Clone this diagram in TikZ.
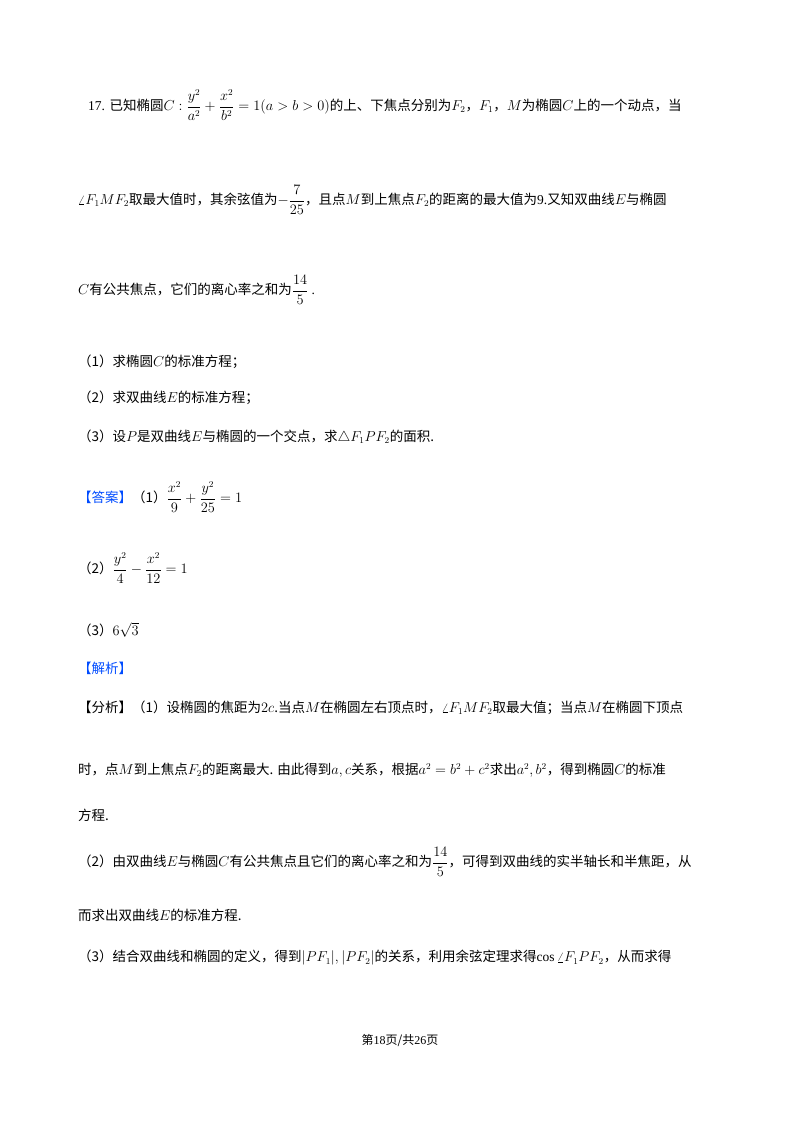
\documentclass[tikz,border=0pt]{standalone}
\usepackage{fontspec}
\usepackage{amsmath}
\newfontfamily\cjk{Noto Sans CJK SC}
\setmainfont{Liberation Serif}
\begin{document}
\begin{tikzpicture}[x=1pt,y=1pt,
  ln/.style={anchor=west,inner sep=0pt,font=\fontsize{13.5}{16}\selectfont},
  ans/.style={text=blue!70!cyan}]
\fill[white] (0,0) rectangle (800,-1132);
\useasboundingbox (0,0) rectangle (800,-1132);
\node[ln] (l1) at (88,-105) {17. {\cjk 已知椭圆}$C:\dfrac{y^2}{a^2}+\dfrac{x^2}{b^2}=1(a>b>0)${\cjk 的上、下焦点分别为}$F_2${\cjk ，}$F_1${\cjk ，}$M${\cjk 为椭圆}$C${\cjk 上的一个动点，当}};
\node[ln] (l2) at (78,-200) {$\angle F_1MF_2${\cjk 取最大值时，其余弦值为}$-\dfrac{7}{25}${\cjk ，且点}$M${\cjk 到上焦点}$F_2${\cjk 的距离的最大值为}9.{\cjk 又知双曲线}$E${\cjk 与椭圆}};
\node[ln] (l3) at (78,-290) {$C${\cjk 有公共焦点，它们的离心率之和为}$\dfrac{14}{5}$ .};
\node[ln] (q1) at (78,-362) {{\cjk （1）求椭圆}$C${\cjk 的标准方程；}};
\node[ln] (q2) at (78,-398) {{\cjk （2）求双曲线}$E${\cjk 的标准方程；}};
\node[ln] (q3) at (78,-437) {{\cjk （3）设}$P${\cjk 是双曲线}$E${\cjk 与椭圆的一个交点，求}$\triangle F_1PF_2${\cjk 的面积.}};
\node[ln] (a1) at (78,-497) {{\cjk\color{blue!70!cyan}【答案】}{\cjk （1）}$\dfrac{x^2}{9}+\dfrac{y^2}{25}=1$};
\node[ln] (a2) at (78,-568) {{\cjk （2）}$\dfrac{y^2}{4}-\dfrac{x^2}{12}=1$};
\node[ln] (a3) at (78,-630) {{\cjk （3）}$6\sqrt{3}$};
\node[ln] (jx) at (78,-668) {{\cjk\color{blue!70!cyan}【解析】}};
\node[ln] (f1) at (78,-708) {{\cjk 【分析】（1）设椭圆的焦距为}$2c${\cjk .当点}$M${\cjk 在椭圆左右顶点时，}$\angle F_1MF_2${\cjk 取最大值；当点}$M${\cjk 在椭圆下顶点}};
\node[ln] (f2) at (78,-770) {{\cjk 时，点}$M${\cjk 到上焦点}$F_2${\cjk 的距离最大. 由此得到}$a,c${\cjk 关系，根据}$a^2=b^2+c^2${\cjk 求出}$a^2,b^2${\cjk ，得到椭圆}$C${\cjk 的标准}};
\node[ln] (f3) at (78,-815) {{\cjk 方程.}};
\node[ln] (f4) at (78,-862) {{\cjk （2）由双曲线}$E${\cjk 与椭圆}$C${\cjk 有公共焦点且它们的离心率之和为}$\dfrac{14}{5}${\cjk ，可得到双曲线的实半轴长和半焦距，从}};
\node[ln] (f5) at (78,-915) {{\cjk 而求出双曲线}$E${\cjk 的标准方程.}};
\node[ln] (f6) at (78,-958) {{\cjk （3）结合双曲线和椭圆的定义，得到}$|PF_1|,|PF_2|${\cjk 的关系，利用余弦定理求得}$\cos\angle F_1PF_2${\cjk ，从而求得}};
\node[anchor=center,inner sep=0pt,font=\fontsize{12}{14}\selectfont] (ft) at (400,-1040) {{\cjk 第}18{\cjk 页/共}26{\cjk 页}};
\end{tikzpicture}
\end{document}
